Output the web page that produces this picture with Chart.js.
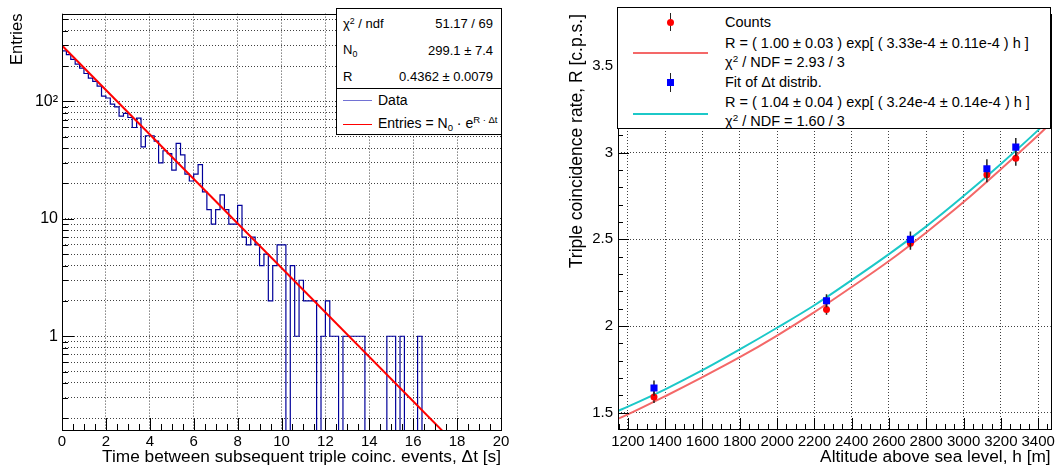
<!DOCTYPE html>
<html lang="en">
<head>
<meta charset="UTF-8">
<title>Triple coincidence rate vs altitude</title>
<script src="https://cdn.jsdelivr.net/npm/chart.js@4"></script>
<style>
  body { margin: 0; background: #fff; font-family: 'Liberation Sans', Arial, sans-serif; }
  #page { position: relative; width: 1059px; height: 471px; overflow: hidden; background: #fff; }
  canvas { position: absolute; top: 0; }
  #left-chart { left: 0; }
  #right-chart { left: 530px; }
  .box { position: absolute; background: #fff; border: 1px solid #000; box-sizing: border-box; }
  .txt { position: absolute; white-space: nowrap; transform: translateY(-50%); line-height: 1; color: #000; }
  .stat { font-size: 13px; }
  .leg { font-size: 14px; }
  .rleg { font-size: 14.5px; }
  sup { font-size: 68%; vertical-align: baseline; position: relative; top: -0.5em; }
  sub { font-size: 68%; vertical-align: baseline; position: relative; top: 0.35em; }
  .ln { position: absolute; height: 0; }
  .err { position: absolute; width: 0; border-left: 1.5px solid #222; }
</style>
</head>
<body>
<div id="page">
  <canvas id="left-chart" width="530" height="471"></canvas>
  <canvas id="right-chart" width="529" height="471"></canvas>

  <!-- left: fit statistics + legend -->
  <div class="box" style="left:336px;top:8px;width:166px;height:81px"></div>
  <span class="txt stat" style="left:343px;top:23px">χ<sup>2</sup> / ndf</span>
  <span class="txt stat" style="right:566px;top:23px">51.17 / 69</span>
  <span class="txt stat" style="left:343px;top:49px">N<sub>0</sub></span>
  <span class="txt stat" style="right:566px;top:50px">299.1 ± 7.4</span>
  <span class="txt stat" style="left:343px;top:76px">R</span>
  <span class="txt stat" style="right:566px;top:76px">0.4362 ± 0.0079</span>
  <div class="box" style="left:336px;top:88px;width:166px;height:47px"></div>
  <div class="ln" style="left:343px;top:100px;width:29px;border-top:1px solid #7272d4"></div>
  <span class="txt leg" style="left:378px;top:100px">Data</span>
  <div class="ln" style="left:343px;top:124px;width:29px;border-top:1px solid #ff0000"></div>
  <span class="txt leg" style="left:378px;top:123px">Entries = N<sub>0</sub> · e<sup>R · Δt</sup></span>

  <!-- right: legend -->
  <div class="box" style="left:617px;top:7px;width:434px;height:122px"></div>
  <div class="err" style="left:670px;top:13px;height:18px"></div>
  <div style="position:absolute;left:667px;top:18.5px;width:7px;height:7px;border-radius:50%;background:#ff0000"></div>
  <span class="txt rleg" style="left:725px;top:22px">Counts</span>
  <span class="txt rleg" style="left:725px;top:43px">R = ( 1.00 ± 0.03 ) exp[ ( 3.33e-4 ± 0.11e-4 ) h ]</span>
  <div class="ln" style="left:633px;top:52px;width:75px;border-top:2px solid #f46868"></div>
  <span class="txt rleg" style="left:725px;top:62px">χ<sup>2</sup> / NDF = 2.93 / 3</span>
  <div class="err" style="left:670px;top:73px;height:19px"></div>
  <div style="position:absolute;left:667px;top:79px;width:7px;height:7px;background:#0000ff"></div>
  <span class="txt rleg" style="left:725px;top:82px">Fit of Δt distrib.</span>
  <span class="txt rleg" style="left:725px;top:102px">R = ( 1.04 ± 0.04 ) exp[ ( 3.24e-4 ± 0.14e-4 ) h ]</span>
  <div class="ln" style="left:633px;top:113px;width:75px;border-top:2px solid #1cc8c8"></div>
  <span class="txt rleg" style="left:725px;top:121px">χ<sup>2</sup> / NDF = 1.60 / 3</span>
</div>

<script>
  // ---- left panel: distribution of time between triple coincidences ----
  const binWidth = 0.2;          // s
  const entries = [
    286, 270, 250, 228, 208, 192, 173, 158, 148, 135,
    111, 107, 95, 90, 75, 79, 73, 60, 72, 41,
    51, 51, 46, 30, 38, 36, 26, 44, 35, 24,
    21, 24, 29, 17, 12, 9, 12, 16, 12, 9,
    9, 13, 7, 6, 7, 6, 4, 5, 2, 4,
    6, 6, 0, 4, 1, 3, 2, 2, 2, 0,
    1, 2, 1, 1, 0, 1, 1, 1, 1, 1,
    0, 0, 0, 0, 0, 1, 1, 0, 1, 0,
    0, 0, 1, 0, 0, 0, 0, 0, 0, 0,
    0, 0, 0, 0, 0, 0, 0, 0, 0, 0
  ];
  const fitT = [0, 17.35];
  const fitEntries = [299.1, 0.155];
  const leftXTicks = [0, 2, 4, 6, 8, 10, 12, 14, 16, 18, 20];
  const leftYTicks = [0.2, 0.3, 0.4, 0.5, 0.6, 0.7, 0.8, 0.9,
                      1, 2, 3, 4, 5, 6, 7, 8, 9,
                      10, 20, 30, 40, 50, 60, 70, 80, 90,
                      100, 200, 300, 400, 500];
  const leftYLabels = { 1: '1', 10: '10', 100: '10²' };
  const leftYMin = 0.159, leftYMax = 560;

  // ---- right panel: rate vs altitude ----
  const altitude = [1340, 2265, 2715, 3125, 3280];
  const countsRate = [1.59, 2.095, 2.477, 2.873, 2.968];
  const countsErr = [0.034, 0.03, 0.037, 0.043, 0.044];
  const dtRate = [1.642, 2.146, 2.50, 2.907, 3.032];
  const dtErr = [0.044, 0.038, 0.045, 0.055, 0.053];
  const fitAltitude = [1147, 1200, 1400, 1600, 1800, 2000, 2200, 2400, 2600, 2800, 3000, 3200, 3400, 3467];
  const countsFit = [1.465, 1.49, 1.595, 1.705, 1.82, 1.945, 2.08, 2.225, 2.375, 2.54, 2.715, 2.905, 3.10, 3.17];
  const dtFit = [1.51, 1.535, 1.635, 1.745, 1.865, 1.99, 2.12, 2.265, 2.415, 2.575, 2.75, 2.935, 3.13, 3.2];
  const rightXTicks = [1200, 1400, 1600, 1800, 2000, 2200, 2400, 2600, 2800, 3000, 3200, 3400];
  const rightYTicks = [1.5, 2, 2.5, 3, 3.5];

  Chart.defaults.font.family = "'Liberation Sans', Arial, sans-serif";
  Chart.defaults.font.size = 15;
  Chart.defaults.color = '#000';

  function steps(from, to, step) {
    const out = [];
    for (let v = from; v <= to + 1e-9; v += step) out.push(Math.round(v * 1000) / 1000);
    return out;
  }

  // frame + inward ticks, ROOT style
  const rootFrame = {
    id: 'rootFrame',
    afterDraw(chart, args, opts) {
      const { ctx, chartArea: a, scales: { x, y } } = chart;
      ctx.save();
      ctx.strokeStyle = '#000';
      ctx.lineWidth = 1;
      ctx.beginPath();
      const xt = (vals, len) => vals.forEach(v => {
        if (v < x.min || v > x.max) return;
        const px = Math.round(x.getPixelForValue(v)) + 0.5;
        ctx.moveTo(px, a.bottom); ctx.lineTo(px, a.bottom - len);
      });
      const yt = (vals, len) => vals.forEach(v => {
        if (v < y.min || v > y.max) return;
        const py = Math.round(y.getPixelForValue(v)) + 0.5;
        ctx.moveTo(a.left, py); ctx.lineTo(a.left + len, py);
      });
      xt(opts.xMajor, opts.majorLen); xt(opts.xMinor, opts.minorLen);
      yt(opts.yMajor, opts.majorLen); yt(opts.yMinor, opts.minorLen);
      ctx.stroke();
      ctx.strokeRect(Math.round(a.left) + 0.5, Math.round(a.top) + 0.5,
                     Math.round(a.right - a.left), Math.round(a.bottom - a.top));
      ctx.restore();
    }
  };

  // vertical error bars under the markers
  const errorBars = {
    id: 'errorBars',
    beforeDatasetDraw(chart, args) {
      const ds = chart.data.datasets[args.index];
      if (!ds.errors) return;
      const { ctx, scales: { x, y } } = chart;
      ctx.save();
      ctx.strokeStyle = '#222';
      ctx.lineWidth = 1.5;
      ctx.beginPath();
      ds.data.forEach((p, i) => {
        const px = x.getPixelForValue(p.x);
        ctx.moveTo(px, y.getPixelForValue(p.y - ds.errors[i]));
        ctx.lineTo(px, y.getPixelForValue(p.y + ds.errors[i]));
      });
      ctx.stroke();
      ctx.restore();
    }
  };

  const dotted = { color: 'rgba(0,0,0,0.75)', lineWidth: 1, drawTicks: false };
  const titleFont = { size: 17.3 };

  // histogram outline: one point per bin low edge, plus the upper edge of the last bin
  const histPoints = entries.map((n, i) => ({ x: i * binWidth, y: n > 0 ? n : leftYMin * 0.5 }));
  histPoints.push({ x: entries.length * binWidth, y: histPoints[histPoints.length - 1].y });

  new Chart(document.getElementById('left-chart'), {
    type: 'line',
    data: {
      datasets: [
        {
          label: 'Fit',
          data: fitT.map((t, i) => ({ x: t, y: fitEntries[i] })),
          borderColor: '#ff0000', borderWidth: 2, pointRadius: 0
        },
        {
          label: 'Data',
          data: histPoints,
          borderColor: '#00009a', borderWidth: 1.2, pointRadius: 0, stepped: 'after'
        }
      ]
    },
    options: {
      responsive: false,
      animation: false,
      layout: { padding: { top: 8, left: 0, right: 29, bottom: 0 } },
      plugins: {
        legend: { display: false },
        tooltip: { enabled: false },
        rootFrame: {
          xMajor: leftXTicks, xMinor: steps(0, 20, 0.5),
          yMajor: [1, 10, 100], yMinor: leftYTicks.filter(v => !leftYLabels[v]),
          majorLen: 12, minorLen: 6
        }
      },
      scales: {
        x: {
          type: 'linear', min: 0, max: 20,
          afterBuildTicks: s => { s.ticks = leftXTicks.map(v => ({ value: v })); },
          afterFit: s => { s.height = 41; },
          grid: dotted,
          border: { display: false, dash: [1, 2] },
          ticks: { padding: 3, maxRotation: 0, autoSkip: false, callback: v => String(v) },
          title: { display: true, text: 'Time between subsequent triple coinc. events, Δt [s]',
                   align: 'end', font: titleFont, padding: { top: 0, bottom: 3 } }
        },
        y: {
          type: 'logarithmic', min: leftYMin, max: leftYMax,
          afterBuildTicks: s => { s.ticks = leftYTicks.map(v => ({ value: v })); },
          afterFit: s => { s.width = 62; },
          grid: dotted,
          border: { display: false, dash: [1, 2] },
          ticks: { padding: 4, autoSkip: false, font: { size: 16 }, callback: v => leftYLabels[v] || '' },
          title: { display: true, text: 'Entries', align: 'end', font: { size: 16.5 },
                   padding: { top: 8, bottom: 0 } }
        }
      }
    },
    plugins: [rootFrame]
  });

  new Chart(document.getElementById('right-chart'), {
    type: 'scatter',
    data: {
      datasets: [
        {
          label: 'Fit of Δt distrib.',
          data: altitude.map((h, i) => ({ x: h, y: dtRate[i] })),
          errors: dtErr,
          pointStyle: 'rect', pointRadius: 5, backgroundColor: '#0000ff', borderWidth: 0
        },
        {
          label: 'Counts',
          data: altitude.map((h, i) => ({ x: h, y: countsRate[i] })),
          errors: countsErr,
          pointStyle: 'circle', pointRadius: 3.5, backgroundColor: '#ff0000', borderWidth: 0
        },
        {
          label: 'Fit Δt',
          data: fitAltitude.map((h, i) => ({ x: h, y: dtFit[i] })),
          showLine: true, pointRadius: 0, borderColor: '#1cc8c8', borderWidth: 2,
          cubicInterpolationMode: 'monotone'
        },
        {
          label: 'Fit counts',
          data: fitAltitude.map((h, i) => ({ x: h, y: countsFit[i] })),
          showLine: true, pointRadius: 0, borderColor: '#f46868', borderWidth: 2,
          cubicInterpolationMode: 'monotone'
        }
      ]
    },
    options: {
      responsive: false,
      animation: false,
      layout: { padding: { top: 7, left: 0, right: 3, bottom: 0 } },
      plugins: {
        legend: { display: false },
        tooltip: { enabled: false },
        rootFrame: {
          xMajor: rightXTicks, xMinor: steps(1150, 3450, 50),
          yMajor: rightYTicks, yMinor: steps(1.5, 3.8, 0.1),
          majorLen: 11, minorLen: 5
        }
      },
      scales: {
        x: {
          type: 'linear', min: 1147, max: 3467,
          afterBuildTicks: s => { s.ticks = rightXTicks.map(v => ({ value: v })); },
          afterFit: s => { s.height = 42; },
          grid: dotted,
          border: { display: false, dash: [1, 2] },
          ticks: { padding: 4, maxRotation: 0, autoSkip: false, callback: v => String(v) },
          title: { display: true, text: 'Altitude above sea level, h [m]',
                   align: 'end', font: titleFont, padding: { top: 0, bottom: 3 } }
        },
        y: {
          type: 'linear', min: 1.406, max: 3.8,
          afterBuildTicks: s => { s.ticks = rightYTicks.map(v => ({ value: v })); },
          afterFit: s => { s.width = 88; },
          grid: dotted,
          border: { display: false, dash: [1, 2] },
          ticks: { padding: 5, autoSkip: false, callback: v => String(v) },
          title: { display: true, text: 'Triple coincidence rate, R [c.p.s.]',
                   align: 'end', font: { size: 17.5 }, padding: { top: 37, bottom: 0 } }
        }
      }
    },
    plugins: [rootFrame, errorBars]
  });
</script>
</body>
</html>
